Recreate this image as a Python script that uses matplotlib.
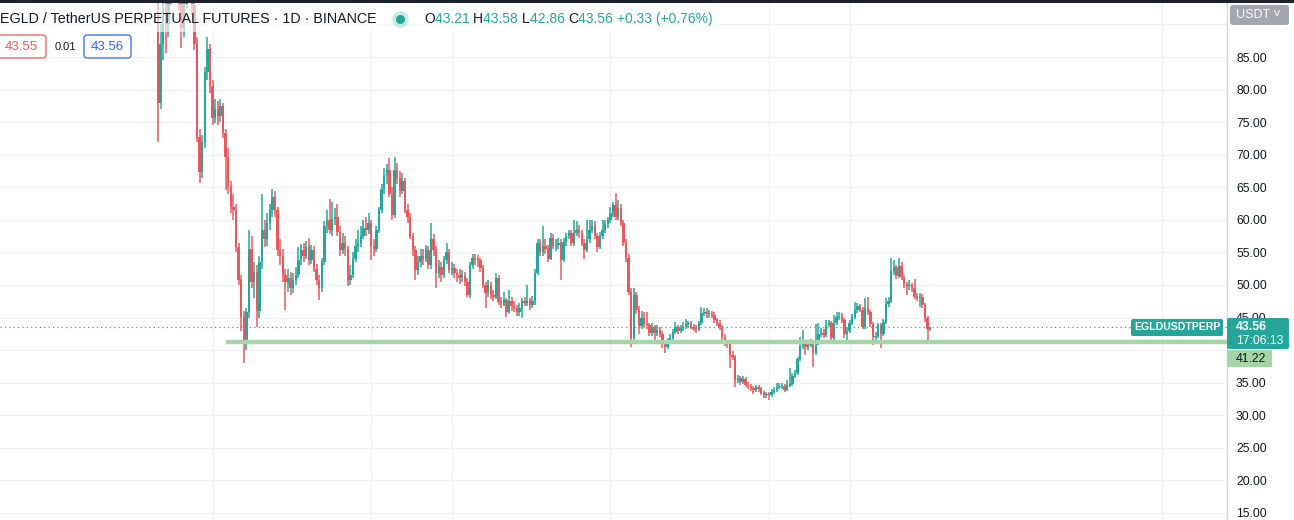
import numpy as np
import pandas as pd
import matplotlib
matplotlib.use("Agg")
import matplotlib.pyplot as plt
from matplotlib.patches import FancyBboxPatch
from matplotlib.lines import Line2D
from matplotlib.transforms import Affine2D

plt.rcParams["font.family"] = ["Liberation Sans", "DejaVu Sans"]

# === data (EGLDUSDT perp, daily) =========================================
start_date = "2022-05-11"
first_open = 92.0
last_open = 43.21

closes = [
    78, 87, 92, 90, 94, 96, 95, 97, 94, 89.5,
    93, 96, 97, 93, 87, 72.7, 67.3, 72, 82.7, 86.3,
    80.5, 75.6, 77, 76, 77.5, 73.3, 69.6, 65, 62, 61.5,
    55.8, 50.8, 45.1, 41.6, 45.8, 55.5, 50.5, 52, 46, 53.5,
    58.4, 57, 59.5, 61.5, 63.5, 61.5, 55.4, 54.5, 51.5, 50.5,
    51, 49.5, 50.8, 51.5, 53.8, 55.4, 54.5, 55.8, 53.8, 55.4,
    52.5, 50.8, 49.5, 53.5, 59, 60, 58.4, 60.2, 60.5, 58.2,
    55.4, 56.5, 55.5, 50.8, 51.5, 54, 56, 56.5, 57.5, 58.8,
    58.4, 59.5, 56, 55.5, 58.4, 61.5, 64.8, 66.9, 67.7, 64,
    60.8, 67.7, 66.5, 64.5, 66, 61.5, 60.5, 57.5, 55.4, 52.3,
    53.5, 54.5, 54, 55.4, 53, 57, 55.4, 51.8, 52.8, 51.5,
    53.8, 55, 52.3, 52.6, 51.8, 51.5, 51.1, 51.5, 50.5, 48.5,
    53, 54.2, 54, 53.8, 52.6, 50, 48.8, 50, 48.5, 48.2,
    51.1, 47.4, 47.2, 47.7, 45.8, 47.5, 46.8, 46.5, 45.8, 46.5,
    47.5, 47.3, 47.5, 47, 47.5, 51.8, 56.5, 55, 56, 55.6,
    54, 57.2, 56, 56.2, 56.5, 53.8, 56.6, 57.5, 58, 56.5,
    58, 58.5, 58, 56.5, 55.4, 57, 58.4, 59, 57.5, 55.8,
    57.5, 58.4, 59.3, 60, 61, 62.3, 60.5, 61.8, 59.5, 56.5,
    54.2, 49, 41.9, 48.5, 46.2, 43.7, 45, 44, 43.8, 42.6,
    43.5, 42.6, 43.1, 42.5, 41.1, 40.5, 41.4, 41.9, 42.8, 43.6,
    42.9, 43.4, 43.6, 44, 44, 43.6, 43.3, 43.1, 44.1, 45.7,
    45.9, 45.5, 45.6, 45.4, 44.6, 44.2, 43.6, 42, 41.1, 41,
    39.3, 39, 35.4, 35.7, 35.1, 35.6, 34.7, 34.5, 34.2, 33.9,
    34.3, 34, 33.4, 33.1, 33.2, 33.1, 33.6, 33.9, 34.3, 34.5,
    34.5, 33.9, 34.6, 34.8, 36, 36.5, 38.6, 40.6, 41, 40.5,
    40.8, 41.1, 39.6, 41.1, 42.5, 42.7, 42.3, 43.8, 44.1, 41.9,
    44.1, 45.1, 45.3, 44.6, 42.4, 43, 44.1, 45.1, 46.1, 46.7,
    46.2, 43.6, 46.4, 45.9, 44, 42, 42.2, 43.9, 42.5, 44.3,
    47.1, 47.6, 52.1, 52.8, 51.4, 52.9, 51.2, 50.1, 49.8, 50,
    49.5, 48.2, 48, 48.2, 47, 44.9, 43.23, 43.56,
]

highs = [
    100, 90, 95, 96, 97, 99, 98, 100, 99, 95,
    95, 99, 100, 99, 94, 88, 74, 73, 83.5, 88.1,
    87, 81.5, 78.5, 78.3, 78.5, 78, 74, 71, 66, 64,
    62.5, 56.5, 51.5, 46, 46.5, 58.4, 57.5, 53.5, 53, 54.5,
    64, 60, 61, 62.5, 64.8, 64.5, 62, 57, 55.5, 52.5,
    52.5, 52, 51.8, 52.8, 55.8, 56.3, 56.5, 56.8, 57.2, 56.2,
    56, 53.2, 51.5, 54.2, 59.8, 61.5, 63.2, 62.8, 61.8, 62.5,
    59, 58, 57.5, 56, 53, 55, 57, 58.5, 59, 60,
    60.5, 61, 60, 57, 59, 62, 65.5, 68, 68.5, 69.5,
    65, 69.6, 68.8, 67.5, 67.2, 66.5, 62.5, 61, 58, 56,
    54.5, 55.5, 55.5, 56.2, 56, 59.5, 57.8, 56, 53.8, 53.5,
    54.5, 56.5, 55.5, 53.5, 53.2, 52.5, 52.5, 52.3, 52, 51,
    53.5, 54.8, 54.8, 54.6, 54.2, 53, 50.5, 50.8, 50.5, 49.2,
    51.8, 51.5, 48.2, 49, 48, 49.2, 48.2, 47.5, 47, 47.2,
    48, 48.2, 50, 48, 48.3, 52.5, 57, 57, 59, 57,
    56.2, 58, 57.8, 57, 57.2, 57, 57.2, 58, 58.4, 58.5,
    60, 59.8, 59.2, 58.5, 57, 60, 60, 60, 59.8, 58,
    58.2, 60, 60, 60.5, 62, 62.8, 64.1, 63, 62.5, 60,
    57, 54.8, 49.5, 49.5, 49, 46.8, 46, 45.8, 45.9, 44.2,
    44.2, 43.9, 43.8, 43.6, 42.9, 41.5, 41.8, 42.4, 43.3, 44.3,
    43.9, 43.9, 44.3, 44.8, 44.5, 44.4, 44, 43.8, 44.5, 46.6,
    46.5, 46.4, 46.1, 46, 45.8, 45, 44.6, 43.9, 42.4, 41.6,
    41.4, 39.8, 39.3, 36.2, 36, 36, 35.9, 35.1, 34.8, 34.5,
    34.7, 34.6, 34.3, 33.7, 33.6, 33.5, 34, 34.3, 35, 34.9,
    35, 34.8, 35.4, 37.3, 36.5, 37, 39, 42, 43.1, 41.5,
    41.5, 41.7, 41.5, 44, 44.1, 43.4, 43.2, 44.6, 44.6, 44.4,
    45.4, 45.9, 45.9, 45.7, 44.9, 43.6, 44.6, 45.6, 47.4, 47.2,
    47.1, 46.6, 48, 48.2, 46.2, 44.3, 42.8, 44.2, 44.2, 44.8,
    48, 48.2, 54.2, 53.9, 53, 54.2, 53.5, 51.6, 50.5, 50.8,
    50.3, 50.9, 48.7, 48.8, 48.6, 47.3, 45.2, 43.58,
]

lows = [
    72, 77, 84.5, 85.6, 88, 93, 93.5, 94, 92, 86.4,
    88, 92.5, 94.5, 91.5, 86, 72, 65.6, 66.5, 71, 81.5,
    79.5, 74.5, 74.8, 74.5, 75, 72.5, 64.6, 64, 61, 60,
    55, 50, 43, 38, 40, 45, 49.5, 48, 43.5, 45,
    52.5, 55.8, 56, 58.5, 60.5, 60.5, 54.5, 53, 50.5, 46.2,
    49, 48.5, 48.8, 50, 51, 53, 53.5, 54, 53, 53.2,
    52, 50, 47.7, 49, 53, 58, 57.8, 57.5, 59.2, 57.5,
    54.5, 54.8, 54.5, 49.8, 50, 51, 53.5, 55, 55.8, 57,
    57.5, 57.8, 53.8, 54.5, 55, 58, 61, 64, 65.5, 63.5,
    60, 60.3, 65.5, 63.5, 64, 61, 59.5, 57, 54.5, 50.8,
    51.5, 52.8, 53, 53.5, 52.5, 52.5, 54.5, 49.5, 51, 50.5,
    51, 53.2, 51.8, 51.5, 51, 50.5, 50.2, 50.5, 49.8, 48.2,
    48, 52.5, 53, 52.8, 52, 49.5, 46.5, 48.2, 47.8, 47.5,
    47.8, 47, 46.5, 46.8, 45.1, 45.5, 46, 45.8, 45.2, 45.3,
    45, 46.8, 46.8, 46.2, 46.5, 47, 51.5, 54.5, 54.5, 54.8,
    53.5, 53.8, 55.5, 55.2, 55.5, 50.8, 53.5, 56, 57, 56,
    56, 57.5, 57.2, 56, 54, 55, 56.5, 58, 57, 55,
    55.5, 57, 58, 58.8, 59.5, 60.5, 60, 60, 59, 56,
    53.5, 48.5, 40.5, 41.5, 45.5, 42.4, 43.2, 43.5, 43.2, 42.1,
    42.2, 41.6, 42.2, 42, 40.3, 39.6, 40.1, 41, 41.6, 42.5,
    42.5, 42.6, 43, 43.3, 43.5, 43.2, 42.9, 42.7, 42.9, 43.9,
    45.2, 45, 45, 44.9, 44.2, 43.7, 43.1, 41.6, 40.6, 40.3,
    37.3, 38.5, 34.3, 35, 34.7, 34.8, 34.3, 34.1, 33.8, 33.2,
    33.6, 33.6, 33.1, 32.7, 32.6, 32.3, 32.8, 33.3, 33.6, 34,
    34, 33.6, 33.7, 34.3, 34.5, 35.7, 36.2, 38.3, 40.2, 39.2,
    40, 40.5, 37.4, 39.3, 40.8, 42, 41.8, 42, 43.5, 40.9,
    41.6, 43.8, 44.7, 44.2, 41.9, 41.1, 42.6, 43.8, 44.8, 45.7,
    45.8, 43.2, 43.3, 45.4, 43.5, 40.8, 41.1, 41.8, 40.3, 42.2,
    44, 46.6, 47.3, 51.5, 50.9, 51, 50.7, 49.6, 48.4, 49.2,
    49, 47.8, 47.5, 46.6, 46.5, 44.3, 41.2, 42.86,
]

# 40.00 is hidden behind the support tag in the reference
price_ticks = [15, 20, 25, 30, 35, 45, 50, 55, 60, 65, 70, 75, 80, 85]
grid_prices = [15, 20, 25, 30, 35, 40, 45, 50, 55, 60, 65, 70, 75, 80, 85, 90]
month_lines = ["2022-06-01", "2022-08-01", "2022-09-01", "2022-11-01",
               "2023-01-01", "2023-02-01", "2023-06-01"]

support_price = 41.22
support_start = "2022-06-06"
last_price = 43.56
countdown = "17:06:13"
symbol = "EGLDUSDTPERP"
title = "EGLD / TetherUS PERPETUAL FUTURES · 1D · BINANCE"
ohlc = [("O", "43.21"), ("H", "43.58"), ("L", "42.86"), ("C", "43.56")]
change = "+0.33 (+0.76%)"
bid, spread, ask = "43.55", "0.01", "43.56"

# === layout (pixels, from the screenshot) ================================
W, H = 1294, 520
PLOT_R = 1227          # price scale starts here
BAR_PX = 2.6           # one day
FIRST_PX = 158         # first visible candle
PX_PER_USD = 6.514
Y85 = 57               # pixel row of the 85.00 label

UP, DOWN = "#26a69a", "#e9585a"
TXT = "#131722"
GRID = "#eff1f5"

dates = pd.date_range(start_date, periods=len(closes), freq="D")
x = np.arange(len(closes))
c = np.array(closes, float)
o = np.r_[first_open, c[:-1]]
o[-1] = last_open
hi = np.array(highs, float)
lo = np.array(lows, float)
cols = np.where(c >= o, UP, DOWN)

def day_idx(d):
    return (pd.Timestamp(d) - dates[0]).days

fig = plt.figure(figsize=(W / 100, H / 100), dpi=100)
ax = fig.add_axes([0, 0, PLOT_R / W, 1])
px = Affine2D().scale(1, -1).translate(0, H)   # screen pixels, origin top-left

ax.set_xlim(-FIRST_PX / BAR_PX, (PLOT_R - FIRST_PX) / BAR_PX)
ax.set_ylim(85 - (H - Y85) / PX_PER_USD, 85 + Y85 / PX_PER_USD)

# grid
for p in grid_prices:
    ax.axhline(p, color=GRID, lw=1, zorder=0)
for d in month_lines:
    ax.axvline(day_idx(d), color=GRID, lw=1, zorder=0)

# candles
ax.vlines(x, lo, hi, colors=cols, lw=1.1, zorder=2)
body = np.maximum(np.abs(c - o), 0.18)
ax.bar(x, body, bottom=np.minimum(o, c), width=0.9, color=cols,
       linewidth=0, zorder=3)

# support ray + last price line
s0 = day_idx(support_start)
ax.plot([s0, ax.get_xlim()[1]], [support_price] * 2, color="#a5d6a7",
        lw=3.2, solid_capstyle="butt", zorder=4)
ax.axhline(last_price, color=UP, lw=0.9, ls=(0, (1, 2.5)), zorder=4)

# price scale
ax.yaxis.tick_right()
ax.set_yticks(price_ticks)
ax.set_yticklabels([f"{p:.2f}" for p in price_ticks])
ax.tick_params(axis="y", length=0, pad=6.5, labelsize=8.8, labelcolor=TXT)
ax.set_xticks([])
for side in ("top", "left", "bottom"):
    ax.spines[side].set_visible(False)
ax.spines["right"].set_color("#d6d8de")
ax.spines["right"].set_linewidth(1)

# === overlays ============================================================
def box(x0, y0, w, h, fc, ec="none", r=0, z=6, alpha=1.0):
    style = f"round,pad=0,rounding_size={r}" if r else "square,pad=0"
    fig.add_artist(FancyBboxPatch((x0, y0), w, h, boxstyle=style, fc=fc,
                                  ec=ec, lw=0.9, transform=px, zorder=z,
                                  alpha=alpha))

def label(xp, yp, s, **kw):
    kw.setdefault("va", "center")
    kw.setdefault("zorder", 7)
    return fig.text(xp, yp, s, transform=px, **kw)

# dark top strip
box(0, 0, W, 3, "#1e222d", z=8)

# faded band behind the legend row
box(0, 4, 720, 28, "white", z=5, alpha=0.6)

renderer = fig.canvas.get_renderer()
label(0, 19, title, color=TXT, fontsize=10.3)

# status dot
fig.add_artist(Line2D([400], [19], marker="o", ms=11, color="#c9ebe7",
                      transform=px, zorder=7))
fig.add_artist(Line2D([400], [19], marker="o", ms=5.5, color=UP,
                      transform=px, zorder=8))

xx = 424
for k, v in ohlc:
    for s, col in ((k, TXT), (v + " ", UP)):
        tt = label(xx, 19, s, color=col, fontsize=10)
        xx += tt.get_window_extent(renderer).width
label(xx, 19, change, color=UP, fontsize=10)

# bid / spread / ask buttons
box(-4, 35, 50, 23, "white", ec=DOWN, r=3)
label(21, 47, bid, color=DOWN, fontsize=9.5, ha="center")
label(65, 47, spread, color=TXT, fontsize=8, ha="center")
box(84, 35, 47, 23, "white", ec="#2962ff", r=3)
label(107.5, 47, ask, color="#2962ff", fontsize=9.5, ha="center")

# currency button
box(1230, 5, 59, 20, "#a3a6af", r=3)
label(1236, 15, "USDT \u02c5", color="white", fontsize=9)

# last price tag
box(1131, 319, 92, 17, UP, r=2)
label(1177, 327.5, symbol, color="white", fontsize=7.6, weight="bold",
      ha="center")
box(1227, 318, 62, 31, UP, r=2)
label(1236, 327, f"{last_price:.2f}", color="white", fontsize=8.8,
      weight="bold")
label(1236, 341, countdown, color="white", fontsize=8.8)

# support tag
box(1227, 350, 45, 17, "#a5d6a7", r=1)
label(1236, 358.5, f"{support_price:.2f}", color=TXT, fontsize=8.8)

fig.savefig("out.png", dpi=100, facecolor="white")
